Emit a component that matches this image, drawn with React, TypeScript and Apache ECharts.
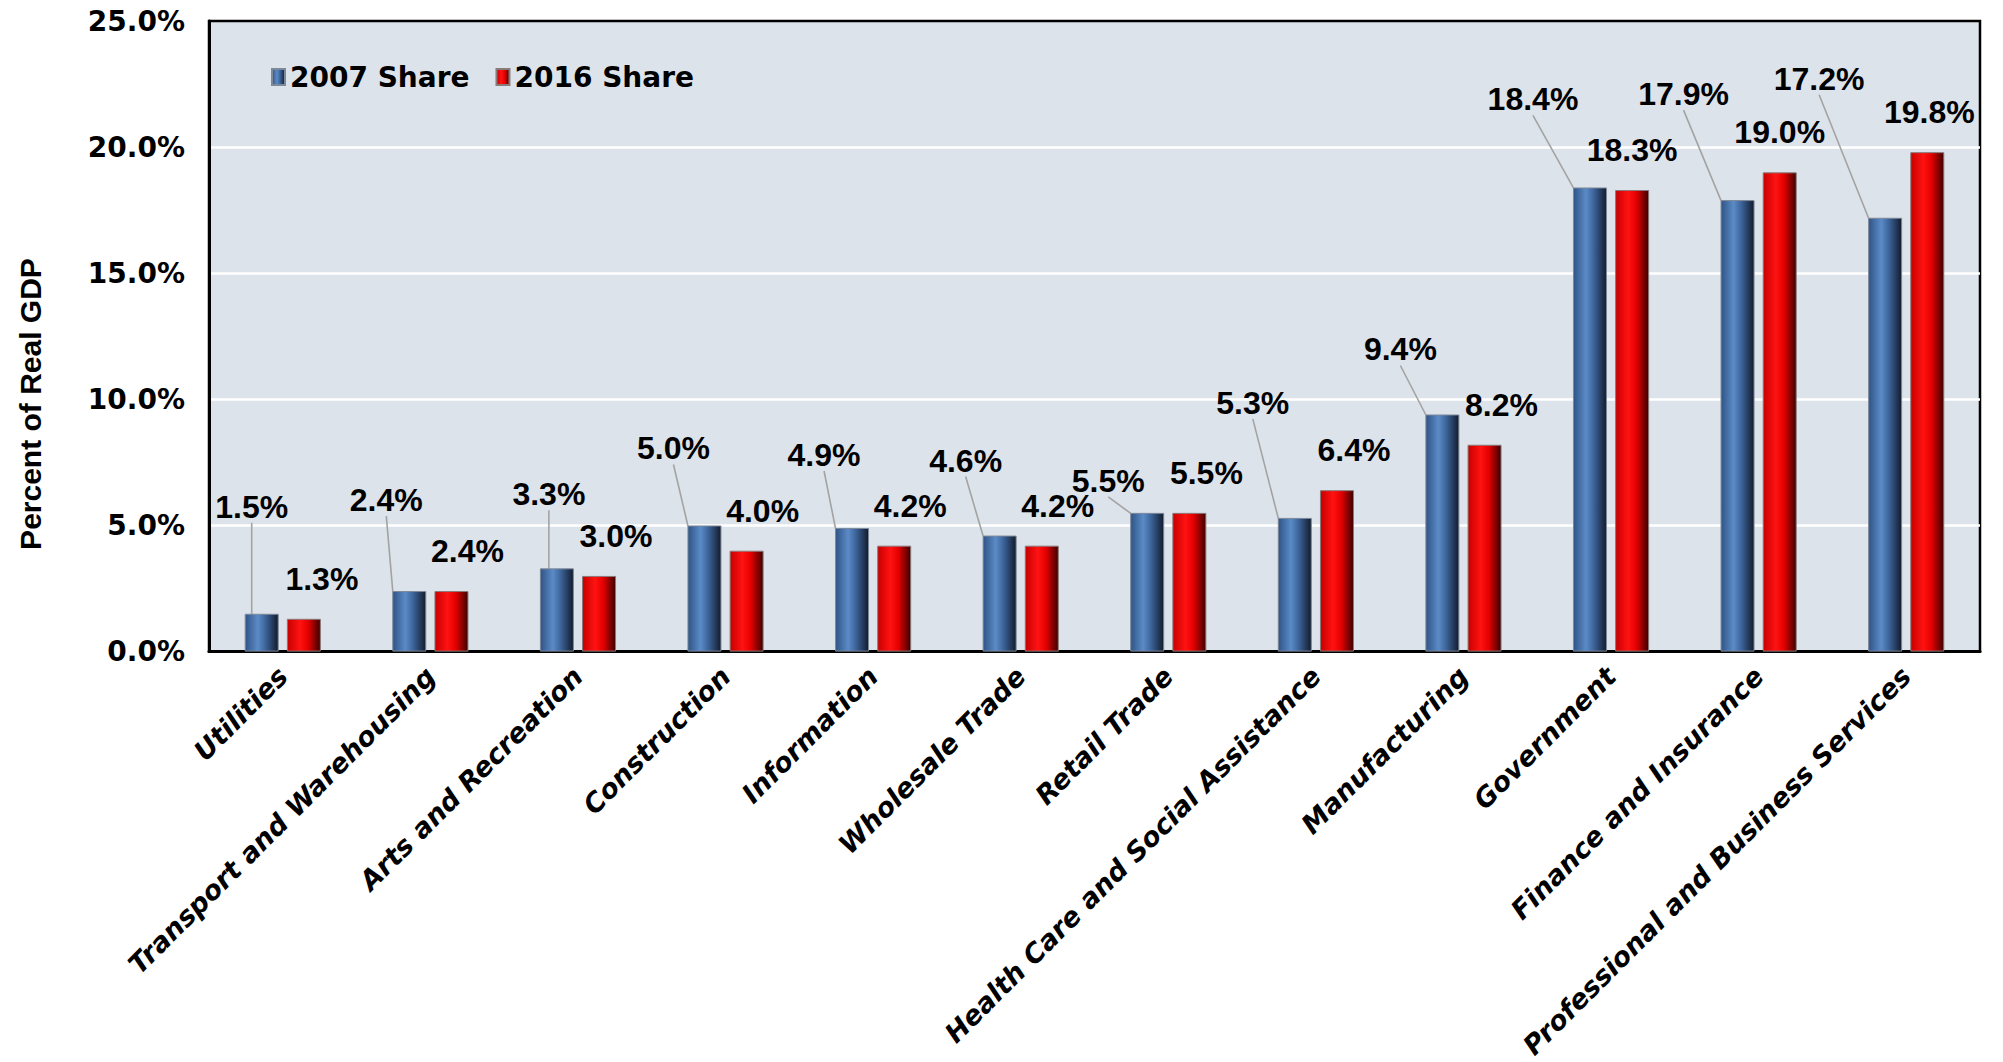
import React, { useEffect, useRef } from 'react';
import * as echarts from 'echarts';

const categories = [
  'Utilities',
  'Transport and Warehousing',
  'Arts and Recreation',
  'Construction',
  'Information',
  'Wholesale Trade',
  'Retail Trade',
  'Health Care and Social Assistance',
  'Manufacturing',
  'Government',
  'Finance and Insurance',
  'Professional and Business Services',
];
const share2007 = [1.5, 2.4, 3.3, 5.0, 4.9, 4.6, 5.5, 5.3, 9.4, 18.4, 17.9, 17.2];
const share2016 = [1.3, 2.4, 3.0, 4.0, 4.2, 4.2, 5.5, 6.4, 8.2, 18.3, 19.0, 19.8];
const seriesNames = ['2007 Share', '2016 Share'];
const yAxisTitle = 'Percent of Real GDP';

// label placement relative to the bar's top centre (px)
const label2007DX = [-10, -23, -8, -31, -28, -34, -39, -42, -42, -57, -54, -66];
const label2007DY = [-107, -91, -74, -77, -73, -75, -32, -115, -65, -88, -106, -139];
const label2016DX = [18, 16, 17, 16, 16, 16, 17, 17, 17, 0, 0, 2];

const fmt = (v: number) => v.toFixed(1) + '%';

export default function App() {
  const ref = useRef<HTMLDivElement>(null);
  useEffect(() => {
    if (!ref.current) return;
    const chart = echarts.init(ref.current, undefined, { renderer: 'svg' });
    const blue = new echarts.graphic.LinearGradient(0, 0, 1, 0, [
      { offset: 0, color: '#2f5486' },
      { offset: 0.38, color: '#5b8bc7' },
      { offset: 0.62, color: '#3c6399' },
      { offset: 1, color: '#121b2c' },
    ]);
    const red = new echarts.graphic.LinearGradient(0, 0, 1, 0, [
      { offset: 0, color: '#c80000' },
      { offset: 0.38, color: '#ff1212' },
      { offset: 0.62, color: '#e60000' },
      { offset: 1, color: '#3c0000' },
    ]);
    const labelFont = {
      fontFamily: 'Liberation Sans',
      fontWeight: 'bold' as const,
      fontSize: 32,
      color: '#000',
    };
    chart.setOption({
      animation: false,
      backgroundColor: '#fff',
      grid: {
        left: 209,
        right: 23,
        top: 21,
        bottom: 409,
        show: true,
        backgroundColor: '#dde3ea',
        borderColor: '#000',
        borderWidth: 2.5,
      },
      legend: {
        left: 266,
        top: 58,
        icon: 'rect',
        itemWidth: 13,
        itemHeight: 16,
        itemGap: 26,
        textStyle: {
          fontFamily: 'DejaVu Sans',
          fontWeight: 'bold',
          fontSize: 28,
          color: '#000',
        },
        data: seriesNames,
      },
      xAxis: {
        type: 'category',
        data: categories,
        axisTick: { show: false },
        axisLine: { lineStyle: { color: '#000', width: 3 } },
        axisLabel: {
          rotate: 45,
          interval: 0,
          margin: 20,
          fontFamily: 'DejaVu Sans',
          fontWeight: 'bold',
          fontStyle: 'italic',
          fontSize: 27,
          color: '#000',
        },
      },
      yAxis: {
        type: 'value',
        min: 0,
        max: 25,
        interval: 5,
        axisLine: { show: true, lineStyle: { color: '#000', width: 3 } },
        axisTick: { show: false },
        axisLabel: {
          formatter: (v: number) => fmt(v),
          margin: 24,
          fontFamily: 'DejaVu Sans',
          fontWeight: 'bold',
          fontSize: 28,
          color: '#000',
        },
        splitLine: {
          showMaxLine: false,
          lineStyle: { color: ['#fff', '#fff', '#fff', '#fff', '#fff', '#000'], width: 2.5 },
        },
      },
      graphic: [
        {
          type: 'text',
          x: 30,
          y: 404,
          rotation: Math.PI / 2,
          style: {
            text: yAxisTitle,
            fontFamily: 'Liberation Sans',
            fontWeight: 'bold',
            fontSize: 30,
            fill: '#000',
            align: 'center',
            verticalAlign: 'middle',
          },
        },
      ],
      series: [
        {
          name: seriesNames[0],
          type: 'bar',
          data: share2007,
          barWidth: 34,
          barGap: '24%',
          itemStyle: { color: blue, borderColor: '#7d8898', borderWidth: 1 },
          label: {
            show: true,
            position: 'top',
            formatter: (p: any) => fmt(p.value),
            ...labelFont,
          },
          labelLine: { show: true, lineStyle: { color: '#a3a3a3', width: 1.6 } },
          labelLayout: (params: any) => {
            const i = params.dataIndex;
            const r = params.rect;
            return {
              x: r.x + r.width / 2 + label2007DX[i],
              y: r.y + label2007DY[i],
              align: 'center',
              verticalAlign: 'middle',
            };
          },
        },
        {
          name: seriesNames[1],
          type: 'bar',
          data: share2016.map((v, i) => ({ value: v, label: { offset: [label2016DX[i], 0] } })),
          barWidth: 34,
          itemStyle: { color: red, borderColor: '#8a7a7a', borderWidth: 1 },
          label: {
            show: true,
            position: 'top',
            distance: 24,
            formatter: (p: any) => fmt(p.value),
            ...labelFont,
          },
        },
      ],
    });
    return () => chart.dispose();
  }, []);
  return (
    <div
      ref={ref}
      style={{ position: 'fixed', left: 0, top: 0, width: 2003, height: 1062 }}
    />
  );
}
